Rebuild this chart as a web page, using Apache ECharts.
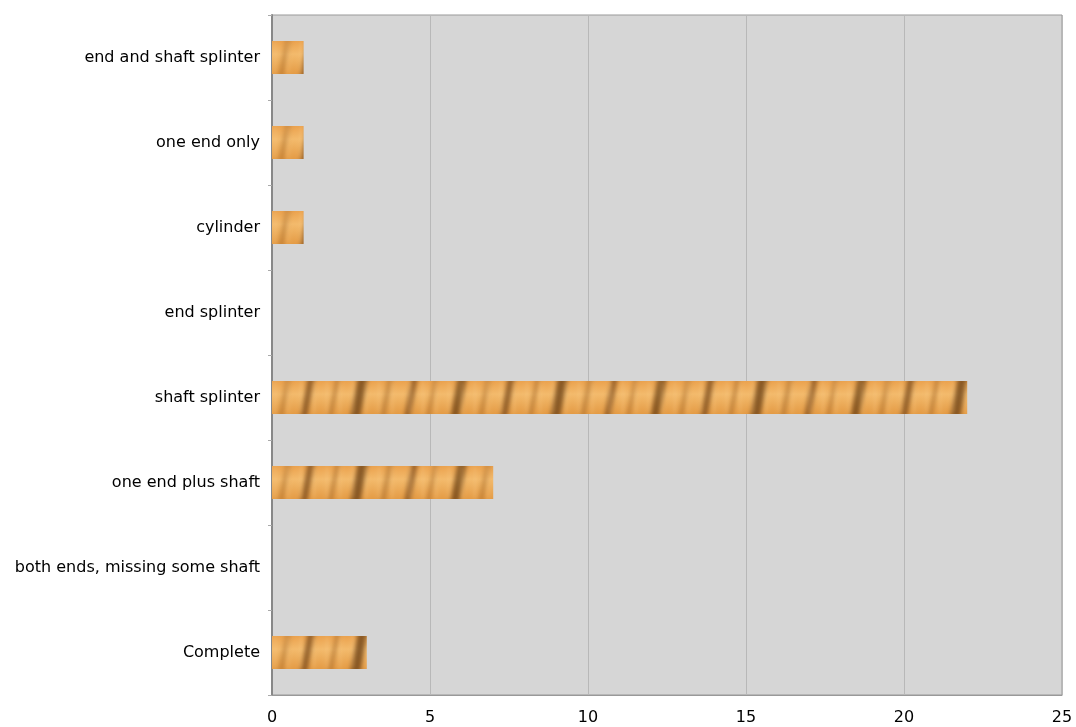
<!DOCTYPE html>
<html>
<head>
<meta charset="utf-8">
<script src="https://cdn.jsdelivr.net/npm/echarts@6/dist/echarts.min.js"></script>
<style>
html,body{margin:0;padding:0;background:#fff;}
#c{width:1076px;height:727px;}
</style>
</head>
<body>
<div id="c"></div>
<script>
const categories = ['Complete','both ends, missing some shaft','one end plus shaft','shaft splinter','end splinter','cylinder','one end only','end and shaft splinter'];
const values = [3, 0, 7, 22, 0, 1, 1, 1];
const xTicks = [0, 5, 10, 15, 20, 25];

// decorative tiger/wood-like texture, one bar band per 85px row
function makeTexture() {
  const W = 200, H = 85, top = 41, bh = 33;
  const cv = document.createElement('canvas');
  cv.width = W; cv.height = H;
  const g = cv.getContext('2d');
  const grad = g.createLinearGradient(0, top, 0, top + bh);
  grad.addColorStop(0, '#EBA24E');
  grad.addColorStop(0.4, '#F3BA6C');
  grad.addColorStop(1, '#E49B45');
  g.fillStyle = grad;
  g.fillRect(0, 0, W, H);
  g.save();
  g.filter = 'blur(2px)';
  const stripes = [[4,6,'rgba(110,62,18,0.65)'],[26,4,'rgba(150,90,30,0.45)'],[50,9,'rgba(100,58,16,0.7)'],[78,5,'rgba(160,100,35,0.45)'],[100,7,'rgba(105,60,18,0.65)'],[128,4,'rgba(150,92,32,0.5)'],[150,10,'rgba(95,55,15,0.7)'],[180,5,'rgba(150,95,35,0.45)']];
  stripes.forEach(function(s){
    g.fillStyle = s[2];
    g.beginPath();
    g.moveTo(s[0] + 8, top - 4);
    g.lineTo(s[0] + 8 + s[1], top - 4);
    g.lineTo(s[0] + s[1], top + bh + 4);
    g.lineTo(s[0], top + bh + 4);
    g.closePath();
    g.fill();
  });
  g.fillStyle = 'rgba(255,215,150,0.35)';
  for (let i = 0; i < W; i += 13) {
    g.fillRect(i + 9, top, 2, bh);
  }
  g.restore();
  return cv;
}

const chart = echarts.init(document.getElementById('c'), null, {renderer: 'canvas'});
chart.setOption({
  animation: false,
  textStyle: {fontFamily: 'DejaVu Sans'},
  grid: {left: 272, right: 14, top: 15, bottom: 32, show: true, backgroundColor: '#d6d6d6', borderColor: '#999', borderWidth: 1},
  xAxis: {
    type: 'value', min: 0, max: 25, interval: 5,
    axisLine: {show: true, lineStyle: {color: '#999', width: 1}},
    axisTick: {show: false},
    axisLabel: {color: '#000', fontSize: 16, margin: 15, fontFamily: 'DejaVu Sans',
      formatter: function(v){ return xTicks.indexOf(v) >= 0 ? String(v) : ''; }},
    splitLine: {show: true, lineStyle: {color: '#b8b8b8', width: 1}}
  },
  yAxis: {
    type: 'category', data: categories,
    axisLine: {show: true, lineStyle: {color: '#888', width: 2}},
    axisTick: {show: true, length: 4, lineStyle: {color: '#aaa'}},
    axisLabel: {color: '#000', fontSize: 16, margin: 12, fontFamily: 'DejaVu Sans'},
    splitLine: {show: false}
  },
  series: [{
    type: 'bar', data: values, barWidth: 33,
    itemStyle: {color: {image: makeTexture(), repeat: 'repeat'}}
  }]
});
</script>
</body>
</html>
